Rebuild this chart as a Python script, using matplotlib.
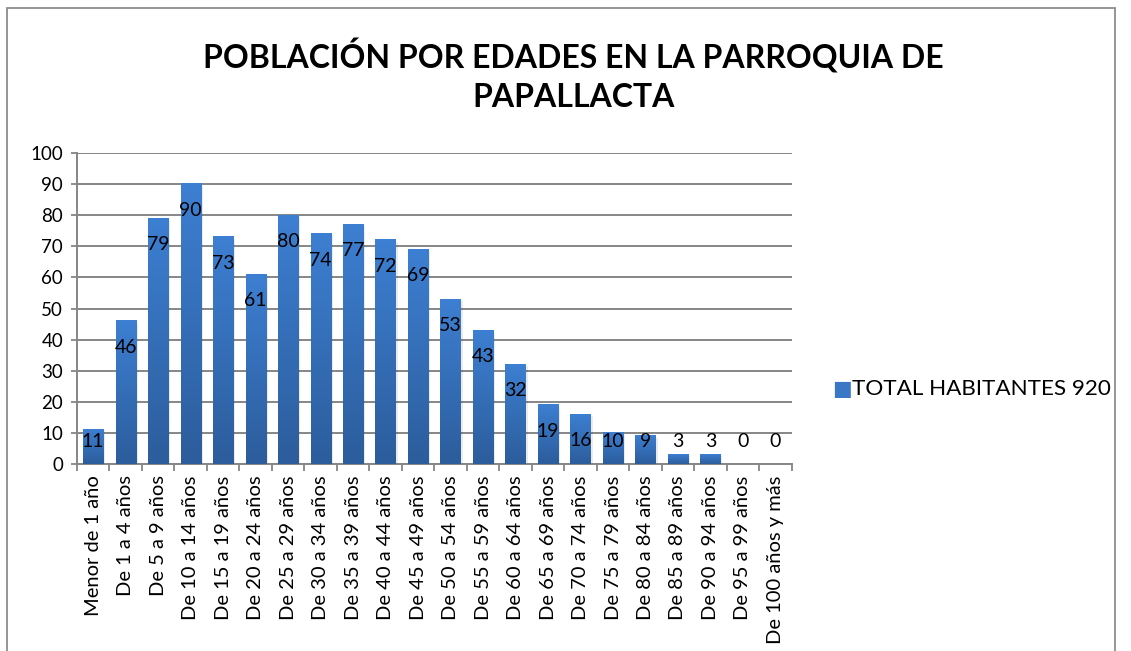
import numpy as np
import matplotlib.pyplot as plt
from matplotlib.patches import Rectangle
from matplotlib.colors import LinearSegmentedColormap

categorias = ["Menor de 1 año", "De 1 a 4 años", "De 5 a 9 años", "De 10 a 14 años",
              "De 15 a 19 años", "De 20 a 24 años", "De 25 a 29 años", "De 30 a 34 años",
              "De 35 a 39 años", "De 40 a 44 años", "De 45 a 49 años", "De 50 a 54 años",
              "De 55 a 59 años", "De 60 a 64 años", "De 65 a 69 años", "De 70 a 74 años",
              "De 75 a 79 años", "De 80 a 84 años", "De 85 a 89 años", "De 90 a 94 años",
              "De 95 a 99 años", "De 100 años y más"]
habitantes = [11, 46, 79, 90, 73, 61, 80, 74, 77, 72, 69, 53, 43, 32, 19, 16, 10, 9, 3, 3, 0, 0]
serie = "TOTAL HABITANTES 920"
titulo = "POBLACIÓN POR EDADES EN LA PARROQUIA DE\nPAPALLACTA"

plt.rcParams['font.family'] = ['Lato', 'DejaVu Sans']

fig = plt.figure(figsize=(11.31, 6.51), dpi=100)
ax = fig.add_axes([0.068, 0.287, 0.632, 0.478])

x = np.arange(len(categorias))
ancho = 0.62
bars = ax.bar(x, habitantes, width=ancho, color='#3a78c6', zorder=3)

# degradado en cada barra (claro arriba, oscuro abajo)
grad = np.linspace(0, 1, 256).reshape(-1, 1)
cmap = LinearSegmentedColormap.from_list('azul', ['#2c5d9c', '#3d7fd2'])
for b in bars:
    h = b.get_height()
    if h <= 0:
        continue
    x0 = b.get_x()
    ax.imshow(grad, extent=[x0, x0 + ancho, 0, h], origin='lower', cmap=cmap,
              aspect='auto', zorder=4)
    # sombra suave
    ax.add_patch(Rectangle((x0 + 0.06, 0), ancho, h - 0.5, color='#000000', alpha=0.08,
                           zorder=2, lw=0))

# etiquetas de datos
for xi, v in zip(x, habitantes):
    ax.text(xi, max(v - 8.4, 7.4), str(v), ha='center', va='center', fontsize=14,
            color='black', zorder=5)

ax.set_xlim(-0.5, len(categorias) - 0.5)
ax.set_ylim(0, 100)
ax.set_yticks(range(0, 101, 10))
ax.tick_params(axis='y', labelsize=13.5, length=4, color='#868686', width=1.3, pad=6)
ax.set_xticks(x)
ax.set_xticklabels(categorias, rotation=90, fontsize=14.5)
ax.tick_params(axis='x', length=0, pad=8)
ax.set_xticks(np.arange(-0.5, len(categorias), 1), minor=True)
ax.tick_params(axis='x', which='minor', length=5, color='#868686', width=1.3)
ax.grid(axis='y', color='#868686', lw=1.4, zorder=1)
for s in ['top', 'right']:
    ax.spines[s].set_visible(False)
for s in ['left', 'bottom']:
    ax.spines[s].set_color('#868686')
    ax.spines[s].set_linewidth(1.4)

# leyenda
fig.text(0.7445, 0.402, '■', color='#3a78c6', fontsize=15, ha='center', va='center',
         family=['DejaVu Sans'])
fig.text(0.753, 0.402, serie, fontsize=16.2, ha='left', va='center')

fig.text(0.507, 0.885, titulo, ha='center', va='center', fontsize=23, fontweight='bold',
         linespacing=1.4)

# borde del gráfico
fig.patches.append(Rectangle((0.006, -0.01), 0.980, 0.998, transform=fig.transFigure,
                             fill=False, ec='#8c8c8c', lw=1.3))

fig.savefig('out.png', dpi=100)
